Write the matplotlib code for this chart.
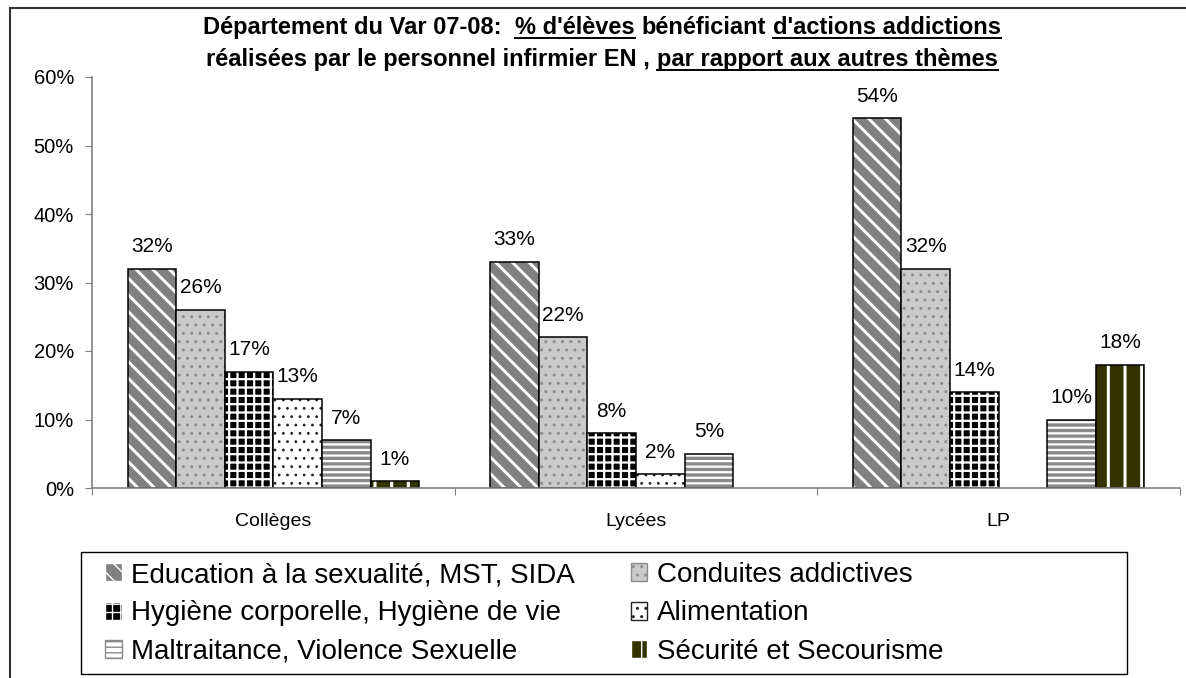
import matplotlib
matplotlib.use('Agg')
import matplotlib.pyplot as plt
from matplotlib.patches import Patch, Rectangle
from matplotlib.lines import Line2D
import numpy as np

# Données (% d'élèves)
categories = ['Collèges', 'Lycées', 'LP']
themes = ['Education à la sexualité, MST, SIDA', 'Conduites addictives',
          'Hygiène corporelle, Hygiène de vie', 'Alimentation',
          'Maltraitance, Violence Sexuelle', 'Sécurité et Secourisme']
education = [32, 33, 54]
conduites = [26, 22, 32]
hygiene = [17, 8, 14]
alimentation = [13, 2, None]
maltraitance = [7, 5, 10]
securite = [1, None, 18]
y_ticks = [0, 10, 20, 30, 40, 50, 60]

series = [education, conduites, hygiene, alimentation, maltraitance, securite]

# facecolor, hatch, hatch colour, hatch linewidth
styles = [
    ('#808080', '\\\\', 'white', 2.1),
    ('#cacaca', '..', '#8c8c8c', 1.0),
    ('black', '++', 'white', 1.6),
    ('white', '..', '#222222', 0.8),
    ('white', '---', '#8a8a8a', 2.4),
    ('#333300', '|', 'white', 2.2),
]

W, H = 1186, 678
fig = plt.figure(figsize=(W / 100, H / 100), dpi=100)
plt.rcParams['font.family'] = ['Liberation Sans', 'DejaVu Sans']

# axes: y axis at x=92, 0% at y=488, 60% at y=77, right end 1180
ax = fig.add_axes([92 / W, 1 - 488 / H, (1180 - 92) / W, (488 - 77) / H])

x = np.arange(len(categories))
w = 0.134
for i, (vals, st) in enumerate(zip(series, styles)):
    fc, hatch, hc, hlw = st
    pos = x + (i - 2.5) * w
    for xi, v in zip(pos, vals):
        if v is None:
            continue
        b = ax.bar(xi, v, w, color=fc, edgecolor=hc, hatch=hatch, linewidth=0)
        for p in b:
            if hasattr(p, 'set_hatch_linewidth'):
                p.set_hatch_linewidth(hlw)
        ax.bar(xi, v, w, fill=False, edgecolor='black', linewidth=1.1)
        ax.annotate(f'{v}%', (xi, v), xytext=(0, 9), textcoords='offset points',
                    ha='center', va='bottom', fontsize=15)

ax.set_xlim(-0.5, 2.5)
ax.set_ylim(0, 60)
ax.set_yticks(y_ticks)
ax.set_yticklabels([f'{t}%' for t in y_ticks])
ax.set_xticks([-0.5, 0.5, 1.5, 2.5])
ax.set_xticklabels([])
ax.set_xticks(x, minor=True)
ax.set_xticklabels(categories, minor=True)
ax.tick_params(axis='x', which='minor', length=0, pad=18, labelsize=14)
ax.tick_params(axis='x', which='major', length=5, direction='out', color='#808080')
ax.tick_params(axis='y', length=5, direction='out', color='#808080', pad=8, labelsize=14.5)
for s in ['top', 'right']:
    ax.spines[s].set_visible(False)
for s in ['left', 'bottom']:
    ax.spines[s].set_color('#808080')
    ax.spines[s].set_linewidth(1.2)

# chart area border (left and top only visible)
fig.add_artist(Line2D([10 / W, 10 / W], [0, 1 - 8 / H], color='#333333', lw=1.5))
fig.add_artist(Line2D([10 / W, 1], [1 - 8 / H, 1 - 8 / H], color='#333333', lw=1.5))

# title with underlined parts
fig.canvas.draw()
r = fig.canvas.get_renderer()
tsize = 17


def width(s):
    t = fig.text(0, 0, s, fontsize=tsize, fontweight='bold')
    bb = t.get_window_extent(renderer=r)
    t.remove()
    return bb.width


space = width('a a') - width('aa')
title_lines = [
    (34, [('Département du Var 07-08:', False, 2), ('% d\'élèves', True, 1),
          ('bénéficiant', False, 1), ('d\'actions addictions', True, 0)]),
    (66, [('réalisées par le personnel infirmier EN ,', False, 1),
          ('par rapport aux autres thèmes', True, 0)]),
]
for ybase, parts in title_lines:
    widths = [width(p[0]) for p in parts]
    total = sum(widths) + space * sum(p[2] for p in parts)
    xpos = 602 - total / 2
    for (txt, under, nsp), wd in zip(parts, widths):
        fig.text(xpos / W, 1 - ybase / H, txt, fontsize=tsize, fontweight='bold',
                 ha='left', va='baseline')
        if under:
            fig.add_artist(Line2D([xpos / W, (xpos + wd) / W],
                                  [1 - (ybase + 4) / H, 1 - (ybase + 4) / H],
                                  color='black', lw=1.4))
        xpos += wd + space * nsp

# legend
handles = [Patch(facecolor=st[0], edgecolor=st[2], hatch=st[1]) for st in styles]
order = [0, 2, 4, 1, 3, 5]
leg = fig.legend([handles[i] for i in order], [themes[i] for i in order],
                 loc='upper left', bbox_to_anchor=(105 / W, 1 - 562 / H),
                 ncol=2, frameon=False, fontsize=20, borderpad=0,
                 handlelength=0.6, handleheight=0.6, handletextpad=0.35,
                 labelspacing=0.45, columnspacing=2.0, borderaxespad=0)
fig.add_artist(Rectangle((81 / W, 1 - 674 / H), (1127 - 81) / W, (674 - 552) / H,
                         transform=fig.transFigure, fill=False,
                         edgecolor='black', lw=1.0))

fig.savefig('out.png', dpi=100)
